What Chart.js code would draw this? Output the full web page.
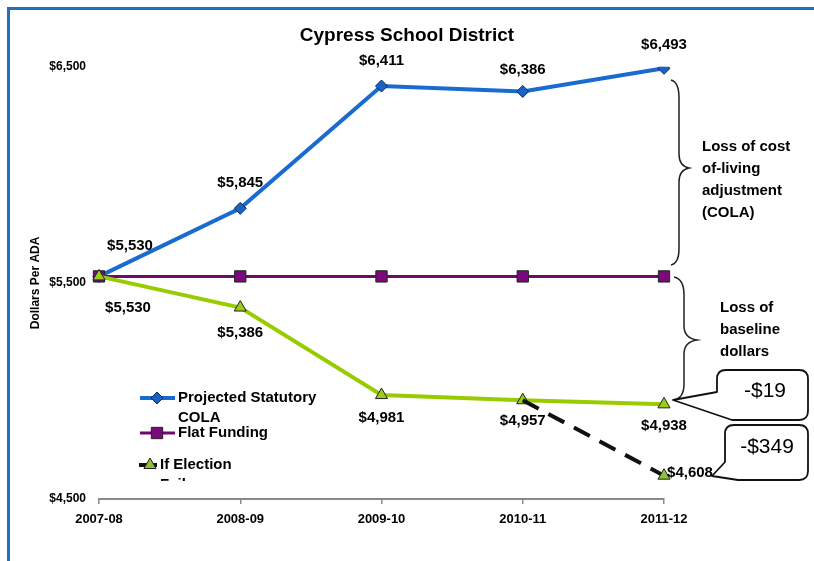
<!DOCTYPE html>
<html><head><meta charset="utf-8">
<script src="https://cdn.jsdelivr.net/npm/chart.js@4/dist/chart.umd.min.js"></script>
<style>html,body{margin:0;padding:0;background:#fff}#wrap{width:814px;height:561px}</style>
</head><body><div id="wrap"><canvas id="c" width="814" height="561"></canvas></div>
<script>
const years = ['2007-08','2008-09','2009-10','2010-11','2011-12'];
const projectedCOLA = [5530,5845,6411,6386,6493];
const flatFunding = [5530,5530,5530,5530,5530];
const ifElectionPasses = [5530,5386,4981,4957,4938];
const ifElectionFails = [null,null,null,4957,4608];
const yTicks = [4500,5500,6500];
const seriesNames = ['Projected Statutory COLA','Flat Funding','If Election Passes','If Election Fails'];
const calloutTexts = ['-$19','-$349'];
const noteCOLA = ['Loss of cost','of-living','adjustment','(COLA)'];
const noteBaseline = ['Loss of','baseline','dollars'];

const FONT = 'Liberation Sans, Arial, sans-serif';
const BLUE = '#1a6bd0', PURPLE = '#6e0a6e', GREEN = '#99cc00';
const fmt = v => '$' + Number(v).toLocaleString('en-US');

const extras = {
  id: 'extras',
  beforeDraw(chart) {
    const ctx = chart.ctx;
    ctx.save();
    ctx.fillStyle = '#fff';
    ctx.fillRect(0, 0, chart.width, chart.height);
    ctx.strokeStyle = '#1f6fc5';
    ctx.lineWidth = 3;
    ctx.beginPath();
    ctx.moveTo(8.5, chart.height);
    ctx.lineTo(8.5, 8.5);
    ctx.lineTo(chart.width, 8.5);
    ctx.stroke();
    ctx.restore();
  },
  afterDatasetsDraw(chart, args, opts) {
    const ctx = chart.ctx;
    ctx.save();
    // data labels
    ctx.fillStyle = '#000';
    ctx.font = 'bold 15px ' + FONT;
    ctx.textAlign = 'center';
    ctx.textBaseline = 'middle';
    Object.keys(opts.labelOffsets).forEach(di => {
      const meta = chart.getDatasetMeta(+di);
      const ds = chart.data.datasets[+di];
      opts.labelOffsets[di].forEach((off, i) => {
        if (!off || ds.data[i] == null) return;
        const p = meta.data[i];
        ctx.fillText(fmt(ds.data[i]), p.x + off[0], p.y + off[1]);
      });
    });

    // braces
    ctx.strokeStyle = '#222';
    ctx.lineWidth = 1.5;
    function brace(xs, x, y1, y2, tipY, d) {
      ctx.beginPath();
      ctx.moveTo(xs, y1);
      ctx.quadraticCurveTo(x, y1 + 2, x, y1 + 18);
      ctx.lineTo(x, tipY - 14);
      ctx.quadraticCurveTo(x, tipY - 2, x + d, tipY);
      ctx.quadraticCurveTo(x, tipY + 2, x, tipY + 14);
      ctx.lineTo(x, y2 - 16);
      ctx.quadraticCurveTo(x, y2 - 2, xs, y2);
      ctx.stroke();
    }
    brace(671, 679, 80, 265, 168, 10);
    brace(674, 684, 277, 400, 340, 13);

    // notes
    ctx.textAlign = 'left';
    ctx.font = 'bold 15px ' + FONT;
    noteCOLA.forEach((t, i) => ctx.fillText(t, 702, 147 + i * 22));
    noteBaseline.forEach((t, i) => ctx.fillText(t, 720, 308 + i * 22));

    // callouts
    function callout(x, y, w, h, r, tailTop, tip, tailBot) {
      ctx.beginPath();
      ctx.moveTo(x + r, y);
      ctx.lineTo(x + w - r, y);
      ctx.quadraticCurveTo(x + w, y, x + w, y + r);
      ctx.lineTo(x + w, y + h - r);
      ctx.quadraticCurveTo(x + w, y + h, x + w - r, y + h);
      ctx.lineTo(tailBot[0], tailBot[1]);
      ctx.lineTo(tip[0], tip[1]);
      ctx.lineTo(tailTop[0], tailTop[1]);
      ctx.lineTo(x, y + r);
      ctx.quadraticCurveTo(x, y, x + r, y);
      ctx.closePath();
      ctx.fillStyle = '#fff';
      ctx.fill();
      ctx.strokeStyle = '#111';
      ctx.lineWidth = 1.8;
      ctx.stroke();
    }
    ctx.lineJoin = 'round';
    callout(717, 370, 91, 50, 9, [717, 392], [673, 400], [732, 420]);
    callout(725, 425, 83, 55, 9, [725, 462], [712, 476], [738, 480]);
    ctx.fillStyle = '#000';
    ctx.font = '21px ' + FONT;
    ctx.textAlign = 'center';
    ctx.fillText(calloutTexts[0], 765, 391);
    ctx.fillText(calloutTexts[1], 767, 447);

    // legend
    const items = opts.legendItems;
    ctx.font = 'bold 15px ' + FONT;
    ctx.textAlign = 'left';
    items.forEach(it => {
      const ds = chart.data.datasets[it.index];
      ctx.save();
      ctx.strokeStyle = ds.borderColor;
      ctx.lineWidth = ds.borderWidth;
      ctx.setLineDash(ds.borderDash || []);
      ctx.beginPath();
      ctx.moveTo(it.x0, it.y);
      ctx.lineTo(it.x1, it.y);
      ctx.stroke();
      ctx.restore();
      const pbg = Array.isArray(ds.pointBackgroundColor) ? ds.pointBackgroundColor[4] : ds.pointBackgroundColor;
      const pr = Array.isArray(ds.pointRadius) ? ds.pointRadius[4] : ds.pointRadius;
      ctx.save();
      ctx.fillStyle = pbg;
      ctx.strokeStyle = ds.pointBorderColor;
      ctx.lineWidth = 1;
      Chart.helpers.drawPoint(ctx, {pointStyle: ds.pointStyle, radius: pr, borderWidth: 1, rotation: 0}, it.px, it.y);
      ctx.restore();
      // wrap text
      const words = ds.label.split(' ');
      const lines = [];
      let cur = '';
      words.forEach(w => {
        const test = cur ? cur + ' ' + w : w;
        if (ctx.measureText(test).width > it.maxW && cur) { lines.push(cur); cur = w; }
        else cur = test;
      });
      if (cur) lines.push(cur);
      ctx.save();
      if (it.clipY) { ctx.beginPath(); ctx.rect(0, 0, chart.width, it.clipY); ctx.clip(); }
      ctx.fillStyle = '#000';
      lines.forEach((l, k) => ctx.fillText(l, it.tx, it.y + k * 20));
      ctx.restore();
    });
    ctx.restore();
  }
};

const chart = new Chart(document.getElementById('c'), {
  type: 'line',
  data: {
    labels: years,
    datasets: [
      { label: seriesNames[3], data: ifElectionFails, order: 0,
        borderColor: '#111', borderWidth: 4, borderDash: [18, 11], backgroundColor: GREEN,
        pointStyle: 'triangle', pointRadius: [0,0,0,0,7], pointBackgroundColor: '#8fbf3a',
        pointBorderColor: '#222', pointBorderWidth: 1, tension: 0 },
      { label: seriesNames[2], data: ifElectionPasses, order: 1,
        borderColor: GREEN, borderWidth: 4, pointStyle: 'triangle', pointRadius: 7,
        pointBackgroundColor: '#9acd1a', pointBorderColor: '#222', pointBorderWidth: 1, tension: 0 },
      { label: seriesNames[1], data: flatFunding, order: 2,
        borderColor: PURPLE, borderWidth: 3, pointStyle: 'rect', pointRadius: 8,
        pointBackgroundColor: '#7a0a7a', pointBorderColor: '#222', pointBorderWidth: 1, tension: 0 },
      { label: seriesNames[0], data: projectedCOLA, order: 3,
        borderColor: BLUE, borderWidth: 4, pointStyle: 'rectRot', pointRadius: 6,
        pointBackgroundColor: '#1a62c4', pointBorderColor: '#0b2a5c', pointBorderWidth: 1, tension: 0 }
    ]
  },
  options: {
    responsive: false,
    animation: false,
    devicePixelRatio: 1,
    layout: { padding: { left: 0, right: 0, top: 0, bottom: 0 } },
    plugins: {
      legend: { display: false },
      tooltip: { enabled: false },
      title: { display: true, text: 'Cypress School District', color: '#000',
        font: { family: FONT, size: 19, weight: 'bold' }, padding: { top: 24, bottom: 20 } },
      extras: {
        labelOffsets: {
          3: [[31,-31],[0,-25],[0,-25],[0,-22],[0,-23]],
          1: [[29,31],[0,25],[0,23],[0,21],[0,22]],
          0: [null,null,null,null,[26,-3]]
        },
        legendItems: [
          { index: 3, x0: 140, x1: 175, px: 157, y: 398, tx: 178, maxW: 150 },
          { index: 2, x0: 140, x1: 175, px: 157, y: 433, tx: 178, maxW: 150 },
          { index: 0, x0: 139, x1: 158, px: 150, y: 465, tx: 160, maxW: 95, clipY: 481 }
        ]
      }
    },
    scales: {
      x: {
        offset: false,
        grid: { drawOnChartArea: false, drawTicks: true, tickLength: 5, color: '#8a8a8a', lineWidth: 1.5 },
        border: { display: true, color: '#8a8a8a', width: 2 },
        ticks: { color: '#000', font: { family: FONT, size: 13, weight: 'bold' }, padding: 8, maxRotation: 0 },
        afterFit(s) { s.height = 62; }
      },
      y: {
        min: 4500, max: 6500,
        afterBuildTicks(s) { s.ticks = yTicks.map(v => ({ value: v })); },
        grid: { display: false },
        border: { display: false },
        ticks: { color: '#000', font: { family: FONT, size: 12, weight: 'bold' }, padding: 5,
          callback: v => fmt(v) },
        title: { display: true, text: 'Dollars Per ADA', color: '#000',
          font: { family: FONT, size: 12, weight: 'bold' }, padding: { top: 28, bottom: 0 } },
        afterFit(s) { s.width = 99; }
      },
      yRight: {
        position: 'right',
        min: 4500, max: 6500,
        grid: { display: false },
        border: { display: false },
        ticks: { display: false },
        afterFit(s) { s.width = 150; }
      }
    }
  },
  plugins: [extras]
});
</script>
</body></html>
